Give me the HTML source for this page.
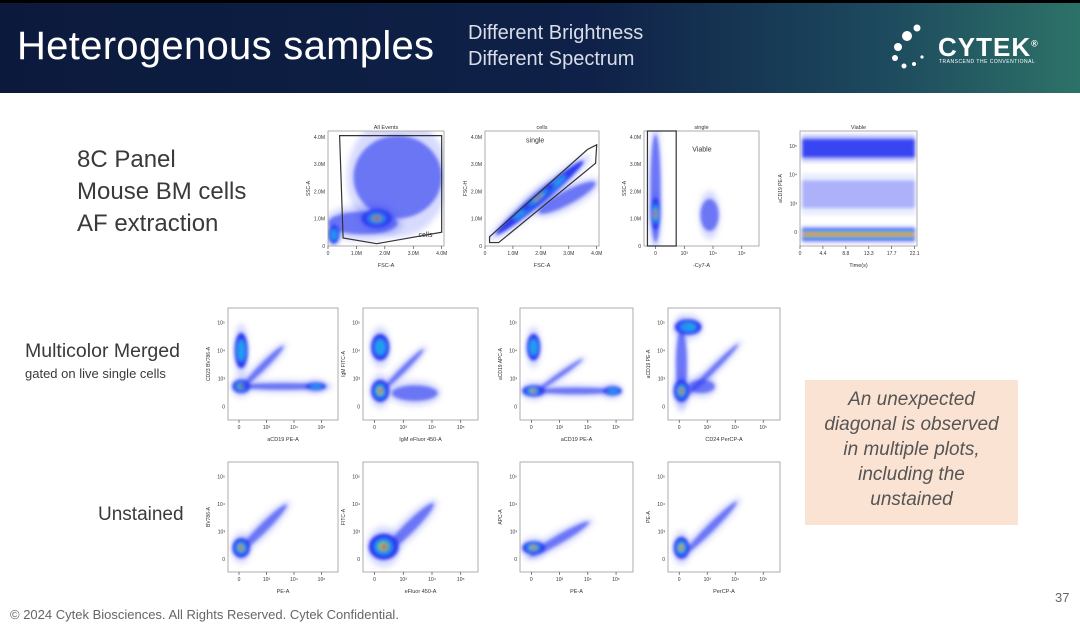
<!DOCTYPE html>
<html><head><meta charset="utf-8"><style>
body{margin:0;width:1080px;height:639px;overflow:hidden;background:#fff;font-family:"Liberation Sans",sans-serif;position:relative}
.hdr{position:absolute;left:0;top:0;width:1080px;height:93px;background:linear-gradient(90deg,#0b1a3c 0%,#0f2148 55%,#1d4a5e 82%,#2d7268 100%);border-top:3px solid #000;box-sizing:border-box}
.t{position:absolute;color:#fff}
.txt{position:absolute;color:#3a3a3a;font-weight:300}
svg{position:absolute;left:0;top:0}
</style></head><body>
<div class="hdr"></div>
<div class="t" style="left:17px;top:24px;font-size:40px;letter-spacing:0.3px">Heterogenous samples</div>
<div class="t" style="left:468px;top:20px;font-size:20px;line-height:26px;color:#d8dde8">Different Brightness<br>Different Spectrum</div>
<div class="t" style="left:938px;top:32px;font-size:26px;font-weight:bold;letter-spacing:1px">CYTEK<sup style="font-size:9px">®</sup></div>
<div class="t" style="left:939px;top:59px;font-size:5px;letter-spacing:.5px">TRANSCEND THE CONVENTIONAL</div>
<div class="txt" style="left:77px;top:144px;font-size:24px;line-height:32px">8C Panel<br>Mouse BM cells<br>AF extraction</div>
<div class="txt" style="left:25px;top:340px;font-size:19.5px">Multicolor Merged</div>
<div class="txt" style="left:25px;top:366px;font-size:13px">gated on live single cells</div>
<div class="txt" style="left:98px;top:504px;font-size:19px">Unstained</div>
<div style="position:absolute;left:805px;top:380px;width:213px;height:145px;background:#fbe3d3;color:#555;font-style:italic;font-size:19px;line-height:25px;text-align:center;padding:7px 16px 0;box-sizing:border-box">An unexpected diagonal is observed in multiple plots, including the unstained</div>
<div class="txt" style="left:10px;top:607px;font-size:13px;color:#666;font-weight:normal">© 2024 Cytek Biosciences. All Rights Reserved. Cytek Confidential.</div>
<div class="txt" style="left:1055px;top:590px;font-size:13px;color:#666">37</div>
<svg id="s" width="1080" height="639">
<defs><filter id="b" x="-50%" y="-50%" width="200%" height="200%"><feGaussianBlur stdDeviation="1.6"/></filter>
<filter id="b2" x="-50%" y="-50%" width="200%" height="200%"><feGaussianBlur stdDeviation="3"/></filter></defs>
<circle cx="898" cy="47" r="4" fill="#fff"/><circle cx="907" cy="36" r="5" fill="#fff"/><circle cx="895" cy="58" r="3" fill="#fff"/><circle cx="904" cy="66" r="2.5" fill="#fff"/><circle cx="914" cy="64" r="2" fill="#fff"/><circle cx="922" cy="57" r="1.6" fill="#fff"/><circle cx="917" cy="28" r="3.5" fill="#fff"/>
</svg>
<script>
const plotTitles=["All Events","cells","single","Viable","","","","","","","",""];
const xLabels=["FSC-A","FSC-A","-Cy7-A","Time(s)","aCD19 PE-A","IgM eFluor 450-A","aCD19 PE-A","CD24 PerCP-A","PE-A","eFluor 450-A","PE-A","PerCP-A"];
const yLabels=["SSC-A","FSC-H","SSC-A","aCD19 PE-A","CD23 BV786-A","IgM FITC-A","aCD19 APC-A","aCD19 PE-A","BV786-A","FITC-A","APC-A","PE-A"];
const linTicks=["0","1.0M","2.0M","3.0M","4.0M"];
const timeTicks=["0","4.4","8.8","13.3","17.7","22.1"];
const logTicks=["0","10³","10⁴","10⁵"];
// populations: [x,y,sx,sy,angleDeg,density] in normalized axis units
const pops=[
 [[0.6,0.6,0.38,0.36,0,0],[0.3,0.2,0.3,0.1,0,0],[0.42,0.24,0.13,0.08,0,4],[0.05,0.1,0.05,0.08,0,1]],
 [[0.72,0.42,0.28,0.06,28,0],[0.48,0.42,0.5,0.05,40,1],[0.47,0.42,0.18,0.035,40,4]],
 [[0.1,0.5,0.045,0.47,0,0],[0.1,0.28,0.04,0.14,0,4],[0.57,0.27,0.08,0.14,0,0]],
 [],
 [[0.12,0.62,0.06,0.16,0,1],[0.12,0.3,0.08,0.06,0,4],[0.5,0.3,0.4,0.03,0,0],[0.8,0.3,0.09,0.035,0,1],[0.32,0.48,0.26,0.03,45,0]],
 [[0.15,0.65,0.08,0.12,0,1],[0.15,0.26,0.08,0.1,0,4],[0.45,0.24,0.2,0.07,0,0],[0.35,0.45,0.25,0.025,45,0]],
 [[0.12,0.65,0.06,0.12,0,1],[0.12,0.26,0.1,0.05,0,4],[0.5,0.26,0.35,0.03,0,0],[0.82,0.26,0.08,0.04,0,1],[0.35,0.4,0.25,0.02,35,0]],
 [[0.18,0.83,0.12,0.07,0,1],[0.12,0.5,0.05,0.3,0,0],[0.12,0.26,0.07,0.1,0,4],[0.4,0.45,0.32,0.025,45,0],[0.3,0.3,0.12,0.06,0,0]],
 [[0.32,0.4,0.3,0.04,45,0],[0.12,0.22,0.08,0.09,0,4]],
 [[0.4,0.4,0.3,0.05,45,0],[0.18,0.23,0.13,0.12,0,4]],
 [[0.35,0.3,0.3,0.04,30,0],[0.12,0.22,0.1,0.06,0,4]],
 [[0.38,0.4,0.33,0.035,45,0],[0.12,0.22,0.07,0.1,0,4]]
];
const bands=[[0.85,0.08,0],[0.45,0.12,-1],[0.1,0.05,4]];
const boxes=[[328,131,116,115],[485,131,114,115],[644,131,115,115],[800,131,117,115],
 [228,308,110,112],[363,308,115,112],[520,308,113,112],[668,308,112,112],
 [228,462,110,110],[363,462,115,110],[520,462,113,110],[668,462,112,110]];
const S=document.getElementById('s'),NS='http://www.w3.org/2000/svg';
function mk(t,a,p){const e=document.createElementNS(NS,t);for(const k in a)e.setAttribute(k,a[k]);(p||S).appendChild(e);return e;}
const defs=S.querySelector('defs');
const cols=['#1f2df0','#1fb0f0','#30d070','#f0e020','#e82010'];
const scl=[1,0.6,0.42,0.27,0.14];
boxes.forEach((b,i)=>{
 const [x,y,w,h]=b;
 const cp=mk('clipPath',{id:'cp'+i},defs);mk('rect',{x,y,width:w,height:h},cp);
 const g=mk('g',{});
 
 
 const sx=v=>x+v*w, sy=v=>y+h-v*h;
 const cg=mk('g',{'clip-path':'url(#cp'+i+')'},g);
 const inner=mk('g',{filter:'url(#b)'},cg);
 if(i===3){bands.forEach(bd=>{
   const op=bd[2]<0?0.3:0.85;
   mk('rect',{x:x+2,y:sy(bd[0])-bd[1]*h*1.5,width:w-4,height:bd[1]*h*3,fill:cols[0],opacity:op*0.3},inner);
   mk('rect',{x:x+2,y:sy(bd[0])-bd[1]*h,width:w-4,height:bd[1]*h*2,fill:cols[0],opacity:op},inner);
   for(let d=1;d<=bd[2];d++)mk('rect',{x:x+3,y:sy(bd[0])-bd[1]*h*scl[d],width:w-6,height:bd[1]*h*2*scl[d],fill:cols[d]},inner);
 });}
 pops[i].forEach(p=>{
  const [px,py,rx,ry,a,d]=p;const cx=sx(px),cy=sy(py);
  const tr='rotate('+(-a)+' '+cx+' '+cy+')';
  mk('ellipse',{cx,cy,rx:rx*w*1.15,ry:ry*h*1.4+2,fill:'#3a4cf5',opacity:0.2,transform:tr,filter:'url(#b2)'},cg);
  mk('ellipse',{cx,cy,rx:rx*w,ry:ry*h,fill:cols[0],opacity:d>0?0.95:0.6,transform:tr},inner);
  for(let k=1;k<=d;k++)mk('ellipse',{cx,cy,rx:rx*w*scl[k],ry:ry*h*scl[k],fill:cols[k],transform:tr},inner);
 });
 mk('rect',{x,y,width:w,height:h,fill:'none',stroke:'#999','stroke-width':0.8},g);
 if(plotTitles[i])mk('text',{x:x+w/2,y:y-2,'font-size':5.5,'text-anchor':'middle',fill:'#333'},g).textContent=plotTitles[i];
 mk('text',{x:x+w/2,y:y+h+21,'font-size':5.5,'text-anchor':'middle',fill:'#333'},g).textContent=xLabels[i];
 mk('text',{x:x-18,y:y+h/2,'font-size':5,'text-anchor':'middle',fill:'#333',transform:'rotate(-90 '+(x-18)+' '+(y+h/2)+')'},g).textContent=yLabels[i];
 const xt=i<2?linTicks:(i===3?timeTicks:logTicks), yt=(i<3)?linTicks:logTicks;
 xt.forEach((t,k)=>{const tx=x+(i===2||i>3?0.1+k*0.25:k/(xt.length-1)*0.98)*w;
  mk('text',{x:tx,y:y+h+9,'font-size':5,'text-anchor':'middle',fill:'#333'},g).textContent=t;
  mk('line',{x1:tx,x2:tx,y1:y+h,y2:y+h+3,stroke:'#333','stroke-width':0.6},g);});
 yt.forEach((t,k)=>{const ty=y+h-(i<3?k/(yt.length-1)*0.95:0.12+k*0.25)*h;
  mk('text',{x:x-3,y:ty+2,'font-size':5,'text-anchor':'end',fill:'#333'},g).textContent=t;});
});
function gate(i,pts,lab,lx,ly){const [x,y,w,h]=boxes[i];
 const p=mk('polygon',{points:pts.map(q=>(x+q[0]*w)+','+(y+h-q[1]*h)).join(' '),fill:'none',stroke:'#333','stroke-width':1.2});
 
 
 mk('text',{x:x+lx*w,y:y+h-ly*h,'font-size':7,fill:'#333'}).textContent=lab;}
gate(0,[[0.1,0.96],[0.98,0.96],[0.98,0.12],[0.42,0.02],[0.13,0.07]],'cells',0.78,0.08);
gate(1,[[0.04,0.03],[0.12,0.03],[0.97,0.72],[0.98,0.88],[0.9,0.84],[0.04,0.08]],'single',0.36,0.9);
gate(2,[[0.03,0],[0.28,0],[0.28,1],[0.03,1]],'Viable',0.42,0.82);
</script>
</body></html>
